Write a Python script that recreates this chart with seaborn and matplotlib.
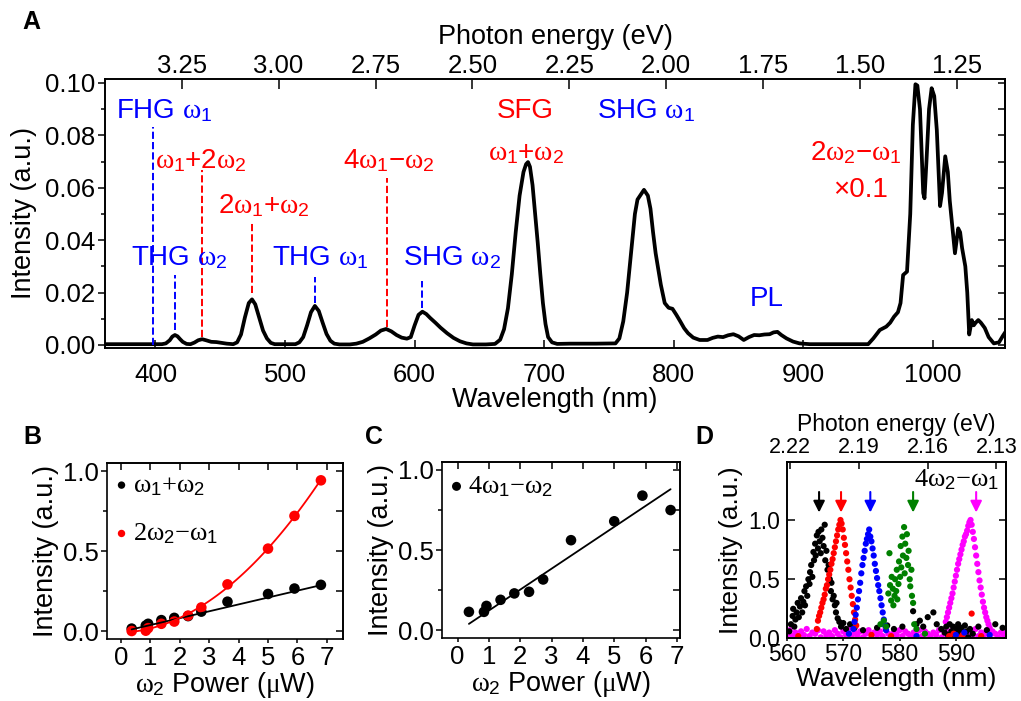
import numpy as np
import matplotlib
matplotlib.use("Agg")
import matplotlib.pyplot as plt
import seaborn as sns
from matplotlib.ticker import MultipleLocator, FormatStrFormatter
from matplotlib.font_manager import FontProperties

# ---------------- data ----------------
# Panel A: spectrum (wavelength nm, intensity a.u.)
spec_wl = [361, 380, 400, 405, 408, 411, 413, 415, 417, 419, 421, 424, 427, 430, 433, 436, 439, 443,
           447, 451, 455, 460, 463, 466, 469, 472, 474.5, 477, 480, 483, 486, 489, 492, 500, 508, 511,
           514, 517, 520, 523, 526, 529, 532, 535, 538, 542, 550, 555, 560, 565, 570, 574, 578, 582,
           586, 590, 594, 597, 600, 603, 606, 609, 612, 616, 620, 625, 630, 635, 640, 645, 655, 662,
           666, 669, 672, 675, 678, 681, 684, 686, 687.5, 689, 691, 693, 695, 697, 699, 701, 703, 706,
           710, 720, 740, 755, 758, 761, 764, 767, 770, 772, 774, 777, 780, 782, 784, 786, 788, 790,
           793, 796, 799, 802, 805, 808, 811, 815, 820, 826, 830, 834, 838, 842, 846, 850, 854, 858,
           862, 866, 870, 874, 877, 880, 883, 887, 892, 897, 905, 930, 950, 954, 959, 964, 967, 970,
           973, 975, 977, 980, 982.5, 984.5, 986.5, 988, 990, 992.5, 993.5, 995, 997, 999, 1001, 1003,
           1005.5, 1007, 1009.5, 1011.5, 1013, 1015, 1017, 1019.5, 1021, 1022.5, 1025, 1026.5, 1028,
           1030, 1031.5, 1033, 1035, 1037, 1040, 1043, 1047, 1051, 1054, 1056]
spec_int = [0.0003, 0.0003, 0.0003, 0.0003, 0.0006, 0.0018, 0.0032, 0.0038, 0.0033, 0.0022, 0.0012,
            0.0004, 0.0003, 0.0009, 0.0018, 0.0022, 0.0018, 0.0012, 0.0011, 0.0008, 0.0005, 0.0003,
            0.001, 0.004, 0.0105, 0.016, 0.0174, 0.0155, 0.0105, 0.0055, 0.0025, 0.0008, 0.0003,
            0.0003, 0.0003, 0.001, 0.003, 0.0075, 0.0125, 0.0149, 0.013, 0.0085, 0.0042, 0.0016,
            0.0005, 0.0002, 0.0002, 0.0005, 0.0012, 0.0025, 0.004, 0.0055, 0.0061, 0.0052, 0.0038,
            0.0028, 0.0024, 0.003, 0.0075, 0.0115, 0.0127, 0.0118, 0.0103, 0.0085, 0.0066, 0.0045,
            0.0027, 0.0014, 0.0006, 0.0002, 0.0002, 0.0004, 0.002, 0.006, 0.014, 0.027, 0.043, 0.057,
            0.066, 0.069, 0.0698, 0.068, 0.061, 0.05, 0.039, 0.027, 0.016, 0.008, 0.003, 0.001,
            0.0004, 0.0005, 0.0005, 0.0006, 0.0025, 0.009, 0.02, 0.035, 0.05, 0.0555, 0.057, 0.0592,
            0.057, 0.052, 0.043, 0.035, 0.029, 0.023, 0.016, 0.0142, 0.0138, 0.0115, 0.009, 0.0064,
            0.0045, 0.0028, 0.0019, 0.0019, 0.0027, 0.0032, 0.003, 0.0037, 0.0041, 0.0033, 0.0019,
            0.003, 0.0038, 0.0037, 0.004, 0.0041, 0.0048, 0.005, 0.0038, 0.0025, 0.0013, 0.0006,
            0.0003, 0.0003, 0.0003, 0.0025, 0.0057, 0.007, 0.0085, 0.0108, 0.0125, 0.016, 0.0267,
            0.028, 0.05, 0.084, 0.0995, 0.099, 0.09, 0.058, 0.056, 0.07, 0.09, 0.098, 0.095, 0.082,
            0.053, 0.058, 0.072, 0.066, 0.055, 0.045, 0.035, 0.0445, 0.043, 0.037, 0.03, 0.02, 0.004,
            0.0095, 0.0075, 0.0085, 0.0095, 0.0085, 0.0065, 0.003, 0.0006, 0.001, 0.0035, 0.005]

# Panel A: labelled dashed markers
mark_wl = [398, 415, 436, 474.5, 523, 578.5, 605.5]
mark_lo = [0.0, 0.0057, 0.003, 0.0197, 0.0161, 0.007, 0.014]
mark_hi = [0.0832, 0.0267, 0.0668, 0.0466, 0.0258, 0.0637, 0.0245]
mark_col = ['blue', 'blue', 'red', 'red', 'blue', 'red', 'blue']

ann_text = ['FHG $\\omega_1$', '$\\omega_1$+2$\\omega_2$', '4$\\omega_1$\u2212$\\omega_2$',
            '2$\\omega_1$+$\\omega_2$', 'THG $\\omega_2$', 'THG $\\omega_1$', 'SHG $\\omega_2$',
            'SFG', '$\\omega_1$+$\\omega_2$', 'SHG $\\omega_1$', '2$\\omega_2$\u2212$\\omega_1$',
            '\u00d70.1', 'PL']
ann_x = [369.5, 399.6, 544.8, 448.3, 381, 490, 591, 663.7, 657, 741, 905.4, 923.2, 859]
ann_y = [0.0865, 0.0674, 0.0674, 0.0503, 0.0305, 0.0305, 0.0305, 0.0865, 0.0706, 0.0865, 0.0706,
         0.0566, 0.0149]
ann_col = ['blue', 'red', 'red', 'red', 'blue', 'blue', 'blue', 'red', 'red', 'blue', 'red', 'red',
           'blue']

energy_ticks_A = [3.25, 3.00, 2.75, 2.50, 2.25, 2.00, 1.75, 1.50, 1.25]

# Panels B and C: power dependence
power_uw = [0.36, 0.84, 0.92, 1.37, 1.81, 2.28, 2.73, 3.62, 5.0, 5.9, 6.8]
sfg_int = [0.017, 0.036, 0.047, 0.070, 0.084, 0.095, 0.123, 0.185, 0.233, 0.267, 0.290]
dfg_int = [0.002, 0.004, 0.020, 0.047, 0.061, 0.098, 0.149, 0.293, 0.516, 0.720, 0.942]
sfg_fit_x = [0.36, 6.8]
sfg_fit_y = [0.012, 0.288]
fwm_int = [0.115, 0.115, 0.152, 0.190, 0.230, 0.240, 0.317, 0.562, 0.680, 0.840, 0.750]
fwm_fit_x = [0.36, 6.8]
fwm_fit_y = [0.040, 0.880]

# Panel D: tuned 4w2-w1 spectra
blk_wl = [560.4, 560.7, 561.0, 561.1, 561.3, 561.5, 561.7, 561.9, 562.1, 562.3, 562.5, 562.7, 562.9,
          563.1, 563.2, 563.4, 563.6, 563.8, 564.0, 564.1, 564.3, 564.5, 564.7, 564.8, 565.0, 565.1,
          565.3, 565.5, 565.6, 565.8, 566.0, 566.1, 566.3, 566.5, 566.7, 566.8, 567.0, 567.2, 567.4,
          567.6, 567.8, 567.9, 568.1, 568.3, 568.5, 568.7, 568.8, 569.0, 569.3, 569.6, 570.0, 570.5,
          571.2, 572.0, 573.5, 576.0, 577.8, 579.0, 580.5, 582.4, 583.0, 583.6, 584.2, 585.0, 586.0,
          586.6, 587.4, 588.0, 588.3, 588.6, 588.9, 589.2, 589.5, 589.8, 590.1, 590.4, 590.7, 591.0,
          591.3, 591.6, 591.9, 592.2, 592.5, 593.0, 594.0, 595.5, 597.0, 598.3]
blk_int = [0.06, 0.12, 0.19, 0.25, 0.10, 0.16, 0.22, 0.30, 0.18, 0.27, 0.34, 0.22, 0.31, 0.40, 0.28,
           0.44, 0.36, 0.50, 0.46, 0.56, 0.62, 0.52, 0.73, 0.66, 0.80, 0.70, 0.87, 0.76, 0.90, 0.82,
           0.72, 0.92, 0.85, 0.78, 0.96, 0.66, 0.74, 0.58, 0.62, 0.50, 0.40, 0.47, 0.33, 0.36, 0.28,
           0.22, 0.30, 0.17, 0.14, 0.10, 0.13, 0.08, 0.12, 0.09, 0.07, 0.09, 0.11, 0.08, 0.10, 0.23,
           0.12, 0.15, 0.10, 0.18, 0.22, 0.12, 0.08, 0.05, 0.10, 0.03, 0.12, 0.06, 0.10, 0.02, 0.08,
           0.12, 0.05, 0.09, 0.03, 0.11, 0.06, 0.01, 0.08, 0.04, 0.10, 0.07, 0.12, 0.09]
red_wl = [565.3, 565.5, 565.7, 565.9, 566.1, 566.3, 566.5, 566.7, 566.9, 567.1, 567.3, 567.5, 567.7,
          567.9, 568.1, 568.3, 568.5, 568.7, 568.9, 569.1, 569.3, 569.5, 569.7, 569.9, 570.1, 570.3,
          570.5, 570.7, 570.9, 571.1, 571.3, 571.5, 571.7, 571.9, 572.1, 572.3, 562.0, 575.0, 578.5,
          588.8, 589.6, 590.4, 591.2, 592.8, 594.5]
red_int = [0.08, 0.15, 0.19, 0.22, 0.26, 0.30, 0.33, 0.37, 0.42, 0.45, 0.50, 0.54, 0.58, 0.63, 0.67,
           0.72, 0.77, 0.82, 0.87, 0.92, 0.96, 1.00, 0.97, 0.92, 0.85, 0.79, 0.72, 0.65, 0.58, 0.50,
           0.43, 0.36, 0.29, 0.22, 0.16, 0.11, 0.02, 0.03, 0.02, 0.02, 0.04, 0.01, 0.03, 0.21, 0.02]
blu_wl = [571.8, 572.0, 572.2, 572.4, 572.6, 572.8, 573.0, 573.2, 573.4, 573.6, 573.8, 574.0, 574.2,
          574.4, 574.6, 574.8, 575.0, 575.2, 575.4, 575.6, 575.8, 576.0, 576.2, 576.4, 576.6, 576.8,
          577.0, 577.2, 577.4, 577.6, 571.0, 583.0, 590.0, 591.5, 596.0]
blu_int = [0.08, 0.14, 0.20, 0.26, 0.33, 0.40, 0.47, 0.55, 0.62, 0.68, 0.74, 0.80, 0.84, 0.88, 0.92,
           0.86, 0.82, 0.76, 0.70, 0.63, 0.57, 0.51, 0.45, 0.40, 0.34, 0.28, 0.22, 0.16, 0.11, 0.07,
           0.04, 0.02, 0.03, 0.05, 0.03]
grn_wl = [576.6, 577.2, 577.6, 578.0, 578.2, 578.3, 578.5, 578.6, 578.8, 578.9, 579.1, 579.2, 579.4,
          579.5, 579.6, 579.8, 579.9, 580.1, 580.2, 580.3, 580.5, 580.6, 580.8, 580.9, 581.0, 581.2,
          581.3, 581.5, 581.6, 581.8, 581.9, 582.1, 582.2, 582.4, 582.6, 583.0, 584.5]
grn_int = [0.12, 0.15, 0.10, 0.38, 0.72, 0.45, 0.32, 0.52, 0.42, 0.28, 0.36, 0.50, 0.40, 0.58, 0.33,
           0.46, 0.65, 0.52, 0.78, 0.60, 0.86, 0.70, 0.94, 0.55, 0.80, 0.68, 0.88, 0.62, 0.74, 0.50,
           0.44, 0.58, 0.36, 0.30, 0.12, 0.08, 0.04]
mag_wl = [588.0, 588.2, 588.4, 588.6, 588.8, 589.0, 589.2, 589.4, 589.6, 589.8, 590.0, 590.2, 590.4,
          590.6, 590.8, 591.0, 591.2, 591.4, 591.6, 591.8, 592.0, 592.2, 592.4, 592.6, 592.8, 593.0,
          593.2, 593.4, 593.6, 593.8, 594.0, 594.2, 594.4, 594.6, 594.8, 595.0, 595.2, 595.4, 595.6,
          595.8, 596.0,
          560.0, 560.5, 561.0, 561.5, 562.0, 562.5, 563.0, 563.5, 564.0, 564.5, 565.0, 565.5, 566.0,
          566.5, 567.0, 567.5, 568.0, 568.5, 569.0, 569.5, 570.0, 570.5, 571.0, 571.5, 572.0, 572.5,
          573.0, 573.5, 574.0, 574.5, 575.0, 575.5, 576.0, 576.5, 577.0, 577.5, 578.0, 578.5, 579.0,
          579.5, 580.0, 580.5, 581.0, 581.5, 582.0, 582.5, 583.0, 583.5, 584.0, 584.5, 585.0, 585.5,
          586.0, 586.5, 587.0, 587.5, 588.0, 588.5, 589.0, 589.5, 590.0, 590.5, 591.0, 591.5, 592.0,
          592.5, 593.0, 593.5, 594.0, 594.5, 595.0, 595.5, 596.0, 596.5, 597.0, 597.5, 598.0, 598.5,
          599.0]
mag_int = [0.08, 0.14, 0.18, 0.22, 0.26, 0.30, 0.34, 0.38, 0.43, 0.48, 0.53, 0.58, 0.63, 0.67, 0.71,
           0.75, 0.79, 0.82, 0.86, 0.88, 0.91, 0.95, 0.98, 1.00, 0.96, 0.90, 0.84, 0.77, 0.70, 0.63,
           0.56, 0.49, 0.43, 0.37, 0.31, 0.26, 0.22, 0.18, 0.15, 0.12, 0.09,
           0.03, 0.07, 0.02, 0.05, 0.01, 0.06, 0.03, 0.08, 0.02, 0.05, 0.04, 0.07, 0.01, 0.06, 0.03,
           0.05, 0.02, 0.07, 0.04, 0.01, 0.06, 0.03, 0.08, 0.02, 0.05, 0.03, 0.06, 0.01, 0.04, 0.07,
           0.02, 0.05, 0.03, 0.06, 0.02, 0.08, 0.04, 0.01, 0.05, 0.03, 0.07, 0.02, 0.06, 0.04, 0.01,
           0.05, 0.03, 0.07, 0.02, 0.06, 0.04, 0.02, 0.05, 0.03, 0.07, 0.01, 0.05, 0.03, 0.06, 0.02,
           0.04, 0.07, 0.03, 0.05, 0.01, 0.06, 0.03, 0.08, 0.02, 0.05, 0.03, 0.07, 0.02, 0.06, 0.04,
           0.01, 0.05, 0.03, 0.06]
arrow_wl = [565.7, 569.6, 574.8, 582.4, 593.6]
arrow_col = ['black', 'red', 'blue', 'green', 'magenta']
energy_ticks_D = [2.22, 2.19, 2.16, 2.13]

# ---------------- style ----------------
sns.set_theme(style="ticks")
plt.rcParams['font.family'] = ['Liberation Sans', 'DejaVu Sans']
plt.rcParams['mathtext.fontset'] = 'custom'
plt.rcParams['mathtext.rm'] = 'Liberation Sans'
plt.rcParams['mathtext.it'] = 'Liberation Serif'
plt.rcParams['mathtext.default'] = 'it'
plt.rcParams['axes.edgecolor'] = 'black'
plt.rcParams['axes.linewidth'] = 1.2
plt.rcParams['xtick.color'] = 'black'
plt.rcParams['ytick.color'] = 'black'
plt.rcParams['text.color'] = 'black'
plt.rcParams['axes.labelcolor'] = 'black'

FS_TICK = 18.5
FS_LAB = 19.5
FS_ANN = 20
serif = FontProperties(family='Liberation Serif', size=19)


def inward_mirror(ax, xstep=None, ystep=None, length=5):
    if ystep is not None:
        r = ax.secondary_yaxis('right')
        r.yaxis.set_major_locator(MultipleLocator(ystep))
        r.tick_params(direction='in', length=length, width=1.1, labelright=False)
    if xstep is not None:
        t = ax.secondary_xaxis('top')
        t.xaxis.set_major_locator(MultipleLocator(xstep))
        t.tick_params(direction='in', length=length, width=1.1, labeltop=False)


fig = plt.figure(figsize=(10.21, 7.01), dpi=100)

# ---------------- panel A ----------------
axA = fig.add_axes([0.1028, 0.5036, 0.8815, 0.3837])
sns.lineplot(x=spec_wl, y=spec_int, color='black', lw=2.7, estimator=None, sort=False, ax=axA)
axA.vlines(mark_wl, mark_lo, mark_hi, colors=mark_col, linestyles='--', lw=1.4)
for t, x, y, c in zip(ann_text, ann_x, ann_y, ann_col):
    axA.text(x, y, t, color=c, fontsize=FS_ANN, ha='left', va='baseline')
axA.set_xlim(361, 1055.6)
axA.set_ylim(-0.00115, 0.1015)
axA.xaxis.set_major_locator(MultipleLocator(100))
axA.yaxis.set_major_locator(MultipleLocator(0.02))
axA.yaxis.set_minor_locator(MultipleLocator(0.01))
axA.yaxis.set_major_formatter(FormatStrFormatter('%.2f'))
axA.tick_params(axis='y', which='major', direction='out', length=5, width=1.1, labelsize=FS_TICK,
                pad=2)
axA.tick_params(axis='y', which='minor', direction='out', length=3, width=1.1)
axA.tick_params(axis='x', direction='in', length=6, width=1.1, labelsize=FS_TICK, pad=11)
axA.set_xlabel('Wavelength (nm)', fontsize=FS_LAB, labelpad=0)
axA.set_ylabel('Intensity (a.u.)', fontsize=FS_LAB, labelpad=6)
inward_mirror(axA, ystep=0.01)

topA = axA.twiny()
topA.set_xlim(3.448, 1.126)
topA.set_xticks(energy_ticks_A)
topA.xaxis.set_major_formatter(FormatStrFormatter('%.2f'))
topA.tick_params(axis='x', direction='in', length=7, width=1.1, labelsize=FS_TICK, pad=1)
topA.set_xlabel('Photon energy (eV)', fontsize=FS_LAB, labelpad=7)

# ---------------- panel B ----------------
axB = fig.add_axes([0.1048, 0.0884, 0.2311, 0.2511])
sns.lineplot(x=sfg_fit_x, y=sfg_fit_y, color='black', lw=1.3, ax=axB)
sns.scatterplot(x=power_uw, y=sfg_int, color='black', s=58, edgecolor='none', ax=axB,
                label='$\\omega_1$+$\\omega_2$')
coef = np.polyfit(power_uw, dfg_int, 2)
fx = np.linspace(power_uw[0], power_uw[-1], 100)
sns.lineplot(x=fx, y=np.polyval(coef, fx), color='red', lw=1.3, ax=axB)
sns.scatterplot(x=power_uw, y=dfg_int, color='red', s=58, edgecolor='none', ax=axB,
                label='2$\\omega_2$\u2212$\\omega_1$')
h, l = axB.get_legend_handles_labels()
axB.legend(h, l, loc='upper left', bbox_to_anchor=(0.0, 0.97), frameon=False, prop=serif,
           markerscale=0.7, handlelength=0.7, handletextpad=0.1, labelspacing=0.9,
           borderpad=0.2, borderaxespad=0)

# ---------------- panel C ----------------
axC = fig.add_axes([0.4329, 0.0899, 0.2331, 0.2511])
sns.lineplot(x=fwm_fit_x, y=fwm_fit_y, color='black', lw=1.3, ax=axC)
sns.scatterplot(x=power_uw, y=fwm_int, color='black', s=58, edgecolor='none', ax=axC,
                label='4$\\omega_1$\u2212$\\omega_2$')
h, l = axC.get_legend_handles_labels()
axC.legend(h, l, loc='upper left', bbox_to_anchor=(0.0, 0.96), frameon=False, prop=serif,
           markerscale=0.85, handlelength=0.7, handletextpad=0.1, borderpad=0.2, borderaxespad=0)

for ax, xl in [(axB, (-0.48, 7.55)), (axC, (-0.5, 7.1))]:
    ax.set_xlim(*xl)
    ax.set_ylim(-0.048, 1.05)
    ax.xaxis.set_major_locator(MultipleLocator(1))
    ax.yaxis.set_major_locator(MultipleLocator(0.5))
    ax.yaxis.set_minor_locator(MultipleLocator(0.25))
    ax.yaxis.set_major_formatter(FormatStrFormatter('%.1f'))
    ax.tick_params(axis='both', which='major', direction='out', length=3, width=1.1,
                   labelsize=FS_TICK, pad=2)
    ax.tick_params(axis='y', which='major', length=4)
    ax.tick_params(axis='y', which='minor', direction='out', length=3, width=1.1)
    ax.set_xlabel('$\\omega_2$ Power ($\\mu$W)', fontsize=FS_LAB, labelpad=0)
    ax.set_ylabel('Intensity (a.u.)', fontsize=FS_LAB, labelpad=3)
    inward_mirror(ax, xstep=1, ystep=0.25)

# ---------------- panel D ----------------
axD = fig.add_axes([0.7708, 0.0892, 0.2145, 0.2518])
for wl, it, c in [(mag_wl, mag_int, 'magenta'), (blk_wl, blk_int, 'black'),
                  (red_wl, red_int, 'red'), (blu_wl, blu_int, 'blue'),
                  (grn_wl, grn_int, 'green')]:
    sns.scatterplot(x=wl, y=it, color=c, s=20, edgecolor='none', ax=axD)
for x, c in zip(arrow_wl, arrow_col):
    axD.annotate('', xy=(x, 1.04), xytext=(x, 1.26),
                 arrowprops=dict(arrowstyle='-|>', color=c, lw=1.5, mutation_scale=17))
axD.text(597.7, 1.28, '4$\\omega_2$\u2212$\\omega_1$', fontproperties=serif, ha='right',
         va='baseline')
axD.set_xlim(560, 598.9)
axD.set_ylim(0, 1.49)
axD.xaxis.set_major_locator(MultipleLocator(10))
axD.yaxis.set_major_locator(MultipleLocator(0.5))
axD.yaxis.set_major_formatter(FormatStrFormatter('%.1f'))
axD.tick_params(axis='x', direction='out', length=2, width=1.1, labelsize=16.5, pad=1)
axD.tick_params(axis='y', direction='in', length=6, width=1.1, labelsize=16.5, pad=5)
axD.set_xlabel('Wavelength (nm)', fontsize=19, labelpad=1)
axD.set_ylabel('Intensity (a.u.)', fontsize=19, labelpad=4)
inward_mirror(axD, ystep=0.5)
topD = axD.twiny()
topD.set_xlim(2.2214, 2.1258)
topD.set_xticks(energy_ticks_D)
topD.xaxis.set_major_formatter(FormatStrFormatter('%.2f'))
topD.tick_params(axis='x', direction='in', length=5, width=1.1, labelsize=15.5, pad=3)
topD.set_xlabel('Photon energy (eV)', fontsize=16.5, labelpad=4)

# panel letters
for txt, x, y in [('A', 0.031, 0.969), ('B', 0.032, 0.377), ('C', 0.366, 0.377),
                  ('D', 0.69, 0.377)]:
    fig.text(x, y, txt, fontsize=18, fontweight='bold', ha='center', va='center')

fig.savefig('out.png', dpi=100)
